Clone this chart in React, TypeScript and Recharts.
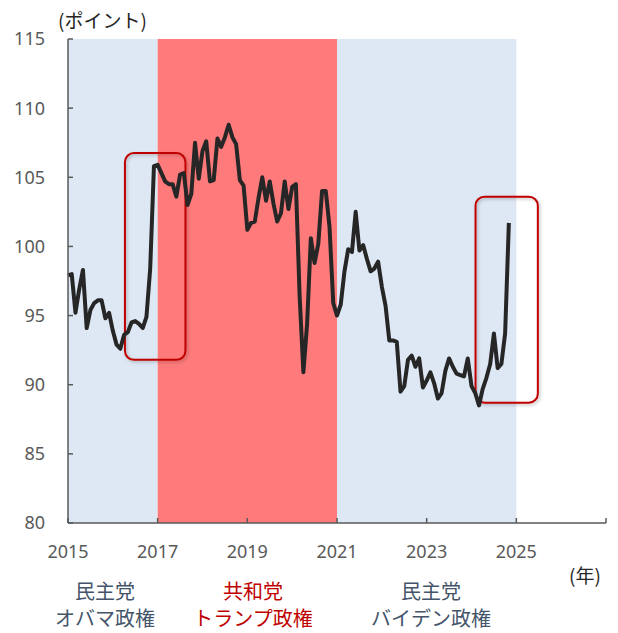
import React from 'react';
import { LineChart, Line, XAxis, YAxis, ReferenceArea } from 'recharts';

// Monthly index values, Jan 2015 - Nov 2024
const y2015 = [97.9, 98.0, 95.2, 96.9, 98.3, 94.1, 95.4, 95.9, 96.1, 96.1, 94.8, 95.2];
const y2016 = [93.9, 92.9, 92.6, 93.6, 93.8, 94.5, 94.6, 94.4, 94.1, 94.9, 98.4, 105.8];
const y2017 = [105.9, 105.3, 104.7, 104.5, 104.5, 103.6, 105.2, 105.3, 103.0, 103.8, 107.5, 104.9];
const y2018 = [106.9, 107.6, 104.7, 104.8, 107.8, 107.2, 107.9, 108.8, 107.9, 107.4, 104.8, 104.4];
const y2019 = [101.2, 101.7, 101.8, 103.5, 105.0, 103.3, 104.7, 103.1, 101.8, 102.4, 104.7, 102.7];
const y2020 = [104.3, 104.5, 96.4, 90.9, 94.4, 100.6, 98.8, 100.2, 104.0, 104.0, 101.4, 95.9];
const y2021 = [95.0, 95.8, 98.2, 99.8, 99.6, 102.5, 99.7, 100.1, 99.1, 98.2, 98.4, 98.9];
const y2022 = [97.1, 95.7, 93.2, 93.2, 93.1, 89.5, 89.9, 91.8, 92.1, 91.3, 91.9, 89.8];
const y2023 = [90.3, 90.9, 90.1, 89.0, 89.4, 91.0, 91.9, 91.3, 90.8, 90.7, 90.6, 91.9];
const y2024 = [89.9, 89.4, 88.5, 89.7, 90.5, 91.5, 93.7, 91.2, 91.5, 93.7, 101.7];

const startYear = 2015;
const yearTicks = [2015, 2017, 2019, 2021, 2023, 2025, 2027];
const valueTicks = [80, 85, 90, 95, 100, 105, 110, 115];

// administrations shown as background bands
const terms = [
  { from: 2015, to: 2017, fill: '#DEE8F4' },
  { from: 2017, to: 2021, fill: '#FF7B7B' },
  { from: 2021, to: 2025, fill: '#DEE8F4' },
];

// highlighted windows around the two election jumps
const highlights = [
  { x1: 2016.27, x2: 2017.62, y1: 91.8, y2: 106.75 },
  { x1: 2024.09, x2: 2025.48, y1: 88.7, y2: 103.6 },
];

const termLabels = [
  { cx: 105, party: '民主党', name: 'オバマ政権', color: '#44546A' },
  { cx: 253, party: '共和党', name: 'トランプ政権', color: '#C00000' },
  { cx: 431, party: '民主党', name: 'バイデン政権', color: '#44546A' },
];

const data = [y2015, y2016, y2017, y2018, y2019, y2020, y2021, y2022, y2023, y2024]
  .flat()
  .map((v, i) => ({ t: startYear + i / 12, v }));

const numFont = '"Noto Sans", "Liberation Sans", sans-serif';
const jpFont = '"Noto Sans CJK JP", "Noto Sans", sans-serif';
const axisColor = '#595959';

const RoundBox = (p: any) => (
  <rect
    x={p.x}
    y={p.y}
    width={p.width}
    height={p.height}
    rx={9}
    ry={9}
    fill="none"
    stroke="#C00000"
    strokeWidth={2}
    filter="url(#boxShadow)"
  />
);

const labelLine = (cx: number, top: number, color: string): React.CSSProperties => ({
  position: 'absolute',
  left: cx - 90,
  top,
  width: 180,
  textAlign: 'center',
  fontSize: 20,
  lineHeight: '22px',
  fontFamily: jpFont,
  color,
  whiteSpace: 'nowrap',
});

export default function App() {
  return (
    <div style={{ position: 'absolute', left: 0, top: 0, width: 618, height: 633, background: '#fff' }}>
      <LineChart
        width={618}
        height={633}
        data={data}
        margin={{ top: 39, right: 12, left: 0, bottom: 80 }}
      >
        <defs>
          <filter id="boxShadow" x="-20%" y="-20%" width="140%" height="140%">
            <feDropShadow dx="1.5" dy="1.5" stdDeviation="1.5" floodColor="#000" floodOpacity="0.25" />
          </filter>
        </defs>
        {terms.map((b) => (
          <ReferenceArea
            key={b.from}
            x1={b.from}
            x2={b.to}
            y1={80}
            y2={115}
            fill={b.fill}
            fillOpacity={1}
            stroke="none"
            ifOverflow="hidden"
          />
        ))}
        <XAxis
          dataKey="t"
          type="number"
          domain={[2015, 2027]}
          ticks={yearTicks}
          tickFormatter={(v: number) => (v === 2027 ? '' : String(v))}
          interval={0}
          height={30}
          tickSize={-5}
          tickMargin={27}
          stroke={axisColor}
          strokeWidth={1.5}
          tick={{ fill: axisColor, fontSize: 18, fontFamily: numFont }}
        />
        <YAxis
          type="number"
          domain={[80, 115]}
          ticks={valueTicks}
          interval={0}
          width={68}
          tickSize={-5}
          tickMargin={28}
          stroke={axisColor}
          strokeWidth={1.5}
          tick={{ fill: axisColor, fontSize: 18, fontFamily: numFont }}
        />
        <Line
          type="linear"
          dataKey="v"
          stroke="#262626"
          strokeWidth={4}
          dot={false}
          activeDot={false}
          strokeLinejoin="round"
          isAnimationActive={false}
        />
        {highlights.map((h, i) => (
          <ReferenceArea
            key={i}
            x1={h.x1}
            x2={h.x2}
            y1={h.y1}
            y2={h.y2}
            ifOverflow="visible"
            shape={RoundBox}
          />
        ))}
      </LineChart>

      <div style={{ position: 'absolute', left: 58, top: 6, fontSize: 19, fontFamily: jpFont, color: '#262626' }}>
        (ポイント)
      </div>
      <div style={{ position: 'absolute', left: 569, top: 561, fontSize: 19, fontFamily: jpFont, color: '#262626' }}>
        (年)
      </div>
      {termLabels.map((l) => (
        <React.Fragment key={l.name}>
          <div style={labelLine(l.cx, 580, l.color)}>{l.party}</div>
          <div style={labelLine(l.cx, 607, l.color)}>{l.name}</div>
        </React.Fragment>
      ))}
    </div>
  );
}
